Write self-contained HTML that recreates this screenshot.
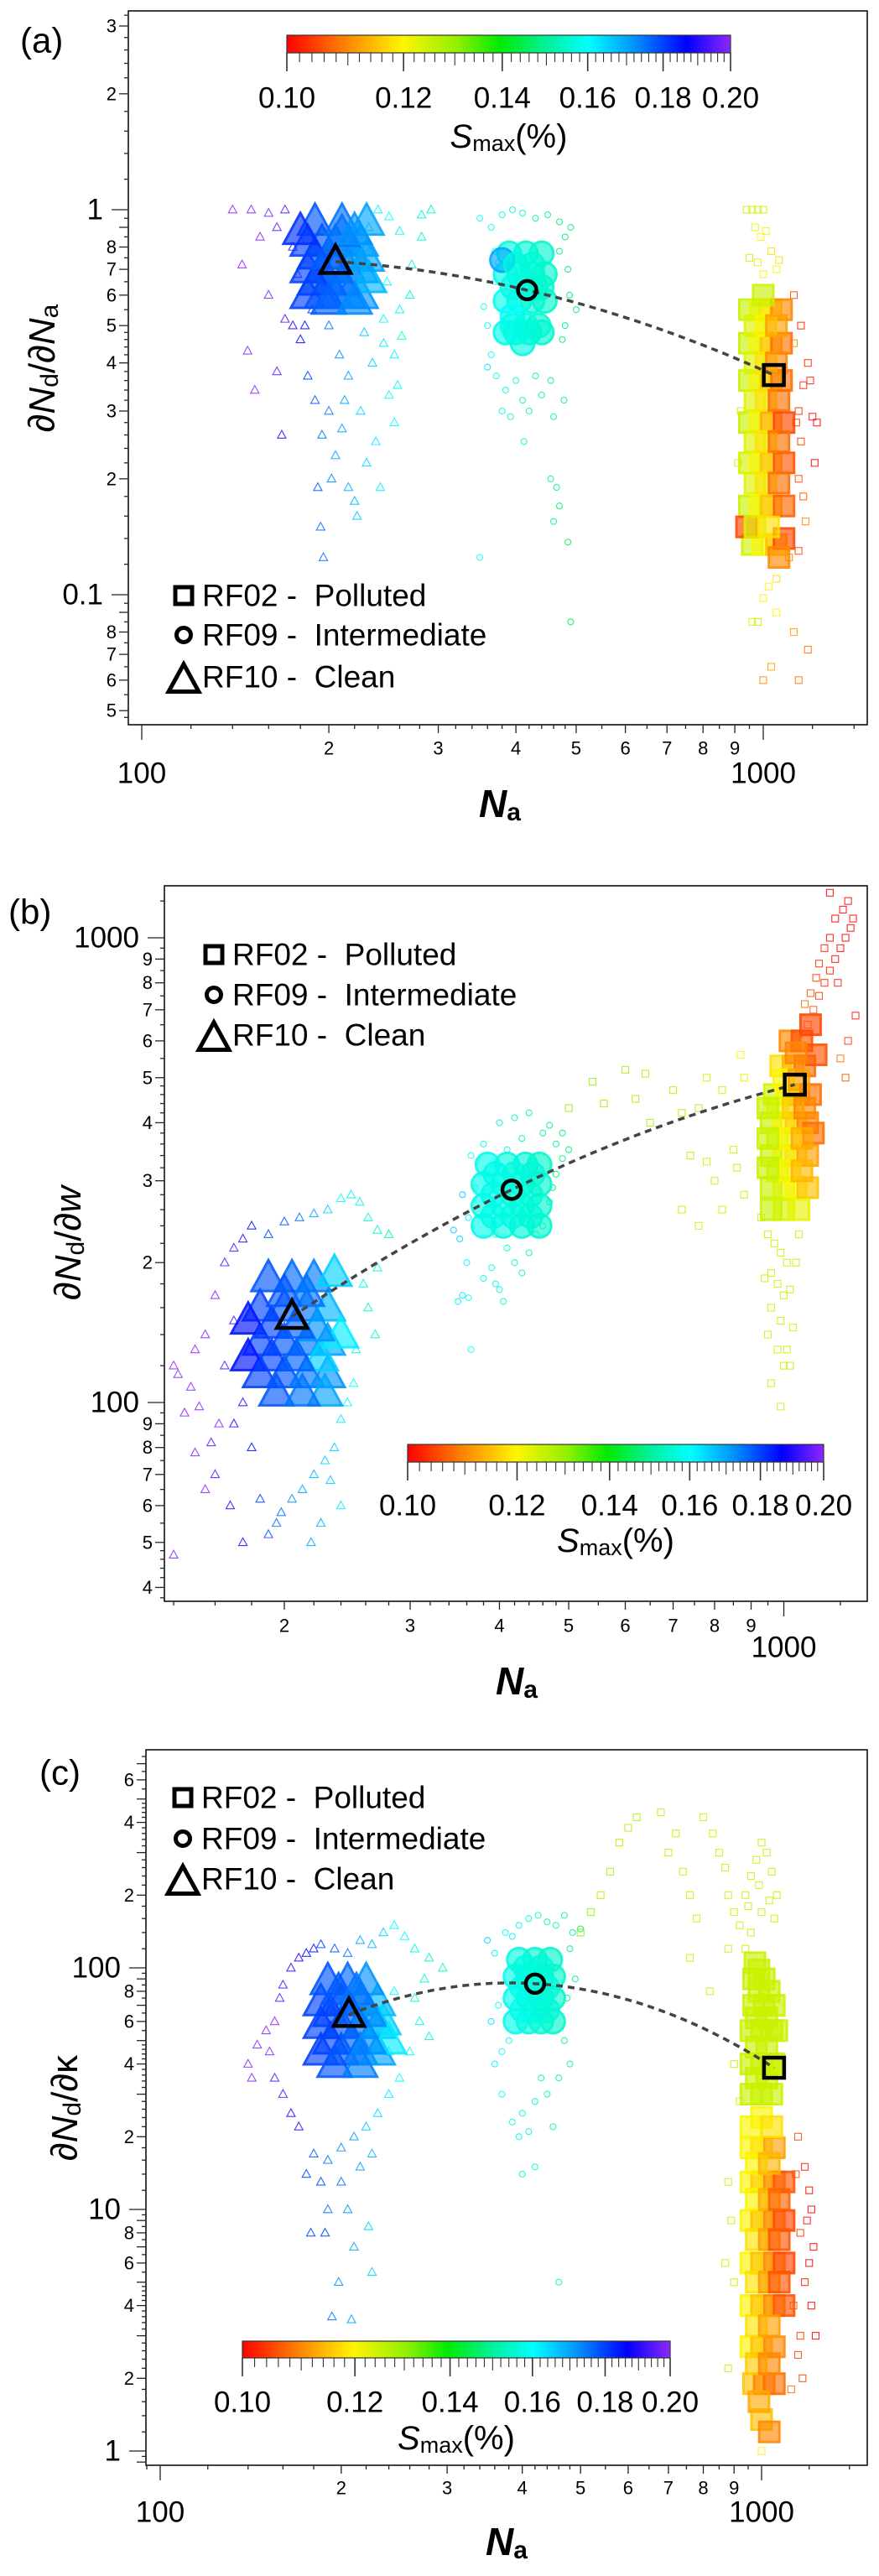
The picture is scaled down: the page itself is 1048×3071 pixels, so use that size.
<!DOCTYPE html>
<html><head><meta charset="utf-8"><title>Sensitivity vs Na</title>
<style>
html,body{margin:0;padding:0;background:#fff}
svg{display:block}
text{font-family:"Liberation Sans",sans-serif;fill:#000}
</style></head>
<body>
<svg id="chart" xmlns="http://www.w3.org/2000/svg" width="1048" height="3071" viewBox="0 0 1048 3071">
<defs>
<linearGradient id="cbgrad" x1="0" x2="1" y1="0" y2="0">
<stop offset="0" stop-color="rgb(255,0,0)"/><stop offset="0.12" stop-color="rgb(255,120,0)"/>
<stop offset="0.26" stop-color="rgb(255,245,0)"/><stop offset="0.38" stop-color="rgb(150,240,0)"/>
<stop offset="0.48" stop-color="rgb(0,235,0)"/><stop offset="0.58" stop-color="rgb(0,240,150)"/>
<stop offset="0.68" stop-color="rgb(0,255,255)"/><stop offset="0.78" stop-color="rgb(0,150,255)"/>
<stop offset="0.9" stop-color="rgb(0,0,255)"/><stop offset="1" stop-color="rgb(140,40,255)"/>
</linearGradient>
</defs>
</svg>
<script>
// ---------------- DATA: [Na, y, Smax] ----------------
const aTri=[[140,1.0,.2],[150,1.0,.2],[160,0.98,.2],[170,1.0,.195],[145,0.72,.2],[148,0.43,.2],[152,0.34,.2],[168,0.26,.19],[165,0.38,.195],[175,0.5,.19],[160,0.6,.2],[155,0.85,.2],[180,0.46,.185],[185,0.37,.18],[190,0.32,.178],[195,0.26,.175],[200,0.3,.175],[192,0.19,.178],[194,0.15,.176],[196,0.125,.175],[205,0.23,.17],[210,0.27,.17],[215,0.19,.168],[220,0.175,.168],[222,0.16,.166],[225,0.3,.165],[230,0.22,.164],[238,0.25,.162],[242,0.19,.162],[250,0.33,.16],[255,0.28,.16],[258,0.35,.158],[245,0.45,.162],[235,0.4,.165],[228,0.48,.166],[262,0.47,.157],[270,0.6,.156],[272,0.72,.155],[282,0.97,.155],[282,0.85,.155],[292,1.0,.154],[260,0.88,.158],[250,0.96,.16],[240,1.0,.162],[232,0.9,.165],[215,0.37,.17],[208,0.42,.172],[200,0.5,.175],[188,0.55,.18],[175,0.8,.19],[165,0.9,.195],[178,0.68,.19],[260,0.55,.158],[248,0.65,.16],[212,0.32,.17],[202,0.2,.173],[170,0.52,.195],[183,0.5,.185],[245,0.52,.16],[255,0.42,.158]];
const aTriCore=[[185,0.6,.18],[195,0.6,.178],[205,0.6,.176],[215,0.6,.174],[225,0.6,.172],[185,0.7,.18],[195,0.7,.178],[205,0.7,.176],[215,0.7,.174],[225,0.7,.172],[185,0.82,.18],[195,0.82,.178],[205,0.82,.176],[215,0.82,.174],[225,0.82,.172],[190,0.93,.178],[210,0.93,.175],[230,0.93,.17],[200,0.65,.176],[220,0.76,.172],[190,0.76,.18],[232,0.66,.168],[190,0.65,.18],[210,0.65,.176],[230,0.75,.17],[200,0.76,.177],[210,0.87,.175],[180,0.88,.182],[220,0.88,.172],[200,0.58,.177],[220,0.58,.173]];
const aCir=[[350,0.95,.16],[365,0.9,.158],[380,0.97,.157],[395,1.0,.156],[410,0.98,.155],[430,0.95,.152],[450,0.97,.15],[470,0.93,.148],[480,0.85,.147],[485,0.7,.148],[488,0.6,.147],[500,0.55,.145],[360,0.5,.16],[355,0.56,.16],[370,0.65,.158],[365,0.42,.16],[372,0.37,.158],[360,0.39,.163],[385,0.34,.156],[380,0.3,.157],[392,0.29,.155],[400,0.36,.155],[410,0.32,.154],[420,0.3,.153],[430,0.37,.152],[440,0.33,.151],[455,0.36,.15],[460,0.29,.15],[478,0.32,.148],[412,0.25,.154],[455,0.2,.15],[465,0.19,.148],[470,0.17,.147],[460,0.155,.148],[485,0.137,.145],[350,0.125,.16],[490,0.085,.145],[475,0.46,.148],[480,0.5,.148],[370,0.78,.16],[375,0.73,.158],[470,0.78,.149],[490,0.9,.147]];
const aCirCore=[[385,0.48,.158],[400,0.48,.157],[420,0.48,.156],[440,0.48,.155],[385,0.58,.158],[405,0.58,.157],[425,0.58,.156],[445,0.58,.155],[385,0.68,.158],[405,0.68,.157],[425,0.68,.156],[445,0.68,.155],[390,0.77,.157],[415,0.77,.156],[440,0.77,.155],[395,0.53,.16],[430,0.63,.156],[380,0.74,.17],[410,0.45,.157],[395,0.5,.158],[415,0.5,.157],[435,0.5,.156],[395,0.63,.158],[415,0.63,.157],[440,0.63,.155],[400,0.72,.157],[425,0.72,.156]];
const aSq=[[940,1.0,.125],[960,1.0,.125],[980,1.0,.125],[1000,1.0,.125],[970,0.9,.122],[990,0.85,.12],[1010,0.88,.12],[950,0.75,.125],[980,0.73,.122],[1030,0.78,.118],[1050,0.7,.12],[1060,0.74,.118],[1000,0.68,.12],[1120,0.6,.105],[1150,0.5,.102],[1180,0.4,.103],[1190,0.36,.102],[1160,0.35,.103],[1140,0.3,.103],[1220,0.28,.1],[1200,0.29,.101],[1210,0.22,.1],[1150,0.25,.104],[1140,0.2,.105],[1160,0.18,.106],[1170,0.155,.11],[1140,0.13,.105],[1100,0.125,.11],[1050,0.11,.118],[1020,0.105,.12],[1000,0.098,.12],[960,0.085,.122],[980,0.085,.125],[1050,0.09,.12],[1120,0.08,.112],[1180,0.072,.108],[1030,0.065,.112],[1000,0.06,.11],[1140,0.06,.108],[1130,0.28,.104],[1120,0.45,.11],[920,0.3,.125],[910,0.22,.125],[930,0.15,.12]];
const aSqCore=[[950,0.55,.125],[990,0.55,.122],[1030,0.55,.118],[1070,0.55,.11],[950,0.45,.125],[990,0.45,.12],[1030,0.45,.115],[1070,0.45,.108],[950,0.36,.125],[990,0.36,.12],[1030,0.36,.115],[1070,0.36,.108],[950,0.28,.125],[990,0.28,.12],[1030,0.28,.113],[1080,0.28,.105],[950,0.22,.124],[990,0.22,.12],[1030,0.22,.115],[1080,0.22,.106],[950,0.17,.125],[990,0.17,.12],[1030,0.17,.115],[1080,0.17,.107],[960,0.135,.124],[1000,0.135,.12],[1050,0.135,.115],[1080,0.14,.105],[940,0.15,.105],[1000,0.6,.125],[970,0.5,.123],[1010,0.5,.12],[1050,0.5,.112],[970,0.4,.123],[1010,0.4,.118],[1050,0.4,.11],[970,0.32,.123],[1010,0.32,.118],[1060,0.32,.108],[970,0.25,.123],[1010,0.25,.118],[1060,0.25,.108],[970,0.195,.123],[1010,0.195,.118],[1060,0.195,.108],[970,0.15,.123],[1020,0.15,.118],[1060,0.125,.11]];
const aMeanNa=[205,417,1040];
const aMeanY=[0.733,0.618,0.372];

const bTri=[[140,120,.2],[142,115,.2],[148,108,.2],[152,98,.2],[145,95,.2],[150,130,.2],[155,140,.2],[160,170,.2],[165,200,.195],[170,215,.195],[175,225,.19],[180,240,.185],[190,230,.18],[200,245,.178],[210,250,.175],[220,255,.17],[230,260,.165],[240,275,.16],[248,280,.158],[255,270,.158],[262,250,.156],[270,235,.155],[280,230,.152],[270,195,.155],[258,180,.157],[262,160,.156],[268,140,.155],[252,130,.158],[250,110,.16],[245,100,.16],[240,92,.162],[235,80,.165],[228,75,.165],[220,70,.168],[212,65,.17],[205,62,.172],[198,58,.175],[195,55,.175],[190,52,.178],[185,62,.18],[175,50,.19],[168,60,.19],[160,70,.195],[158,82,.195],[162,90,.2],[140,47,.2],[218,50,.17],[225,55,.168],[240,60,.162],[232,68,.165],[180,80,.185],[170,90,.19],[155,65,.2],[150,78,.2],[170,150,.195],[165,120,.195],[175,100,.19]];
const bTriCore=[[185,115,.18],[200,115,.178],[215,115,.175],[230,115,.172],[185,135,.18],[200,135,.178],[215,135,.175],[230,135,.17],[185,160,.18],[200,160,.178],[215,160,.175],[230,160,.168],[190,185,.178],[205,185,.176],[220,185,.174],[235,190,.165],[178,125,.185],[178,150,.185],[225,125,.165],[240,140,.162],[192,125,.18],[208,125,.177],[222,145,.172],[192,147,.18],[208,147,.177],[200,172,.178],[215,172,.175],[228,105,.17],[195,105,.178],[212,105,.175]];
const bCir=[[345,235,.165],[352,225,.165],[360,200,.16],[355,170,.162],[350,165,.162],[362,168,.16],[365,130,.16],[380,185,.158],[390,195,.157],[395,180,.157],[400,175,.156],[405,165,.156],[420,200,.155],[430,190,.155],[440,210,.153],[450,230,.152],[460,240,.15],[470,270,.15],[480,310,.148],[490,335,.148],[480,360,.15],[470,395,.148],[460,380,.15],[440,420,.152],[420,410,.154],[400,400,.155],[380,360,.157],[365,340,.16],[370,290,.16],[355,280,.165],[362,250,.162],[500,350,.147],[490,380,.147],[475,290,.148],[430,370,.153],[410,350,.156],[445,330,.152],[395,230,.157],[410,215,.156]];
const bCirCore=[[380,240,.158],[405,240,.157],[430,240,.156],[455,240,.155],[380,265,.158],[405,265,.157],[430,265,.156],[455,265,.155],[380,295,.158],[405,295,.157],[430,295,.156],[455,295,.155],[385,325,.158],[410,325,.157],[435,325,.156],[455,325,.155],[392,252,.158],[418,252,.157],[442,252,.156],[392,280,.158],[418,280,.157],[442,280,.156],[395,310,.158],[420,310,.157],[445,310,.156]];
const bSq=[[500,430,.13],[540,490,.13],[560,440,.13],[600,520,.128],[620,450,.128],[650,400,.128],[640,510,.128],[700,470,.127],[720,420,.127],[760,430,.127],[780,500,.125],[820,470,.125],[780,330,.125],[800,300,.125],[740,340,.127],[760,240,.125],[720,260,.126],[850,350,.125],[860,320,.125],[880,280,.125],[820,260,.125],[870,560,.12],[880,500,.122],[930,250,.125],[950,230,.125],[970,220,.125],[990,210,.125],[1010,200,.125],[960,190,.125],[980,180,.125],[1000,170,.125],[1020,175,.125],[960,160,.125],[990,150,.125],[1030,145,.125],[980,130,.125],[1010,130,.125],[950,140,.125],[1020,120,.125],[960,110,.125],[1000,120,.125],[990,98,.125],[940,185,.125],[1040,200,.125],[1050,230,.125],[1050,620,.11],[1080,650,.108],[1100,700,.106],[1120,750,.104],[1140,800,.103],[1160,850,.102],[1180,900,.101],[1200,950,.1],[1220,1000,.1],[1240,1050,.1],[1210,1150,.1],[1230,1200,.1],[1180,1100,.1],[1160,1000,.101],[1140,950,.102],[1120,880,.103],[1110,820,.104],[1090,760,.106],[1070,720,.108],[1190,800,.102],[1250,1100,.1],[1260,680,.102],[1230,600,.104],[1200,550,.108],[1220,500,.106],[1160,1250,.1]];
const bSqCore=[[960,290,.125],[1000,290,.123],[1040,290,.12],[1080,290,.115],[960,340,.125],[1000,340,.122],[1040,340,.118],[1080,340,.112],[960,400,.125],[1000,400,.12],[1040,400,.116],[1080,400,.11],[970,460,.124],[1010,460,.12],[1050,460,.114],[1090,460,.108],[990,530,.118],[1030,530,.114],[1070,530,.108],[1020,600,.11],[1060,600,.106],[1090,650,.105],[1110,560,.106],[1100,380,.108],[980,315,.124],[1020,315,.12],[1060,315,.114],[980,370,.124],[1020,370,.12],[1060,370,.113],[980,430,.122],[1030,430,.116],[1070,430,.11],[1000,495,.12],[1050,495,.112],[1040,565,.11],[950,320,.125],[950,370,.125],[950,430,.125],[960,260,.125],[1000,260,.124],[1050,260,.122]];
const bMeanNa=[205,416,1036];
const bMeanY=[153,287,483];

const cTri=[[140,40,.2],[142,35,.2],[145,48,.2],[150,55,.2],[152,45,.2],[155,60,.2],[158,75,.195],[160,85,.195],[165,100,.19],[170,110,.19],[175,115,.185],[180,120,.185],[185,125,.18],[195,120,.178],[205,115,.175],[215,130,.17],[225,125,.168],[235,140,.165],[245,150,.16],[255,135,.16],[265,120,.157],[280,110,.155],[295,100,.154],[275,90,.156],[265,75,.157],[270,60,.157],[280,52,.156],[260,45,.158],[250,35,.16],[240,30,.162],[230,25,.164],[220,22,.166],[210,20,.17],[200,18,.172],[190,16,.175],[180,17,.178],[175,14,.18],[185,13,.18],[200,13,.175],[215,15,.17],[225,17,.168],[190,10,.175],[205,10,.172],[178,8,.18],[188,8,.18],[210,7,.17],[222,8.5,.165],[198,5,.172],[225,5.5,.165],[193,3.6,.175],[208,3.5,.17],[160,30,.195],[165,25,.19],[155,35,.195],[170,22,.19],[245,80,.16],[240,45,.162]];
const cTriCore=[[185,45,.18],[200,45,.178],[215,45,.175],[230,45,.17],[185,58,.18],[200,58,.178],[215,58,.175],[230,58,.17],[185,72,.18],[200,72,.178],[215,72,.175],[230,72,.168],[190,88,.178],[205,88,.176],[220,88,.172],[235,60,.165],[240,50,.162],[192,50,.18],[208,50,.177],[222,50,.173],[192,65,.18],[208,65,.177],[222,65,.173],[198,80,.178],[212,80,.175],[195,40,.178],[215,40,.174]];
const cCir=[[350,130,.165],[360,115,.162],[375,140,.16],[385,135,.158],[395,150,.157],[410,160,.156],[425,165,.155],[440,155,.153],[455,150,.152],[470,165,.15],[485,140,.15],[500,145,.147],[480,120,.15],[490,90,.148],[475,75,.15],[470,50,.15],[480,40,.15],[460,35,.152],[440,30,.153],[420,28,.155],[400,25,.156],[385,23,.158],[370,30,.16],[360,40,.162],[355,60,.162],[365,70,.16],[370,45,.16],[395,20,.157],[410,21,.156],[420,15,.155],[400,14,.156],[450,22,.152],[460,5,.152],[430,35,.154],[380,50,.158]];
const cCirCore=[[390,60,.158],[410,60,.157],[430,60,.156],[450,60,.155],[390,75,.158],[410,75,.157],[430,75,.156],[450,75,.155],[390,92,.158],[410,92,.157],[430,92,.156],[450,92,.155],[395,108,.157],[420,108,.156],[445,108,.155],[400,67,.158],[420,67,.157],[440,67,.156],[400,83,.158],[420,83,.157],[440,83,.156],[405,100,.157],[430,100,.156]];
const cSq=[[500,140,.13],[520,170,.13],[540,200,.128],[560,250,.128],[580,330,.127],[600,380,.127],[620,420,.127],[680,440,.126],[720,360,.126],[700,300,.126],[740,250,.125],[760,200,.125],[780,160,.125],[800,420,.125],[830,360,.125],[850,300,.125],[870,260,.125],[880,200,.125],[900,170,.125],[920,150,.125],[940,200,.125],[960,240,.125],[980,280,.125],[1000,330,.125],[1020,300,.125],[1040,250,.125],[1060,200,.125],[1050,160,.125],[1000,170,.125],[960,140,.125],[940,120,.125],[760,110,.125],[820,80,.125],[880,120,.125],[950,180,.125],[990,220,.125],[1030,190,.125],[900,40,.125],[920,28,.125],[880,13,.125],[890,9,.125],[870,6,.125],[900,5,.125],[880,2.2,.125],[1000,1,.12],[1150,20,.105],[1180,15,.102],[1200,12,.1],[1210,10,.1],[1190,9,.101],[1220,7,.1],[1200,6,.1],[1180,5,.102],[1210,4,.1],[1160,3,.104],[1230,3,.1],[1150,2.5,.105],[1170,2,.104],[1120,1.8,.108],[1140,14,.106],[1160,8,.104],[1130,4,.106]];
const cSqCore=[[960,30,.125],[1000,30,.125],[1040,30,.125],[960,40,.125],[1000,40,.125],[1040,40,.125],[960,55,.125],[1000,55,.125],[1040,55,.125],[970,70,.125],[1010,70,.125],[1050,70,.125],[970,90,.125],[1010,90,.125],[975,105,.125],[1050,40,.125],[1060,55,.125],[960,18,.12],[1000,18,.118],[1050,18,.112],[960,13,.12],[1000,13,.116],[1050,13,.11],[1090,13,.106],[960,9,.12],[1000,9,.115],[1050,9,.11],[1090,9,.105],[960,6,.12],[1000,6,.115],[1050,6,.11],[1090,6,.105],[960,4,.12],[1000,4,.115],[1050,4,.11],[1090,4,.106],[960,2.7,.12],[1000,2.7,.115],[1050,2.7,.11],[970,1.9,.115],[1010,1.9,.11],[1050,1.9,.108],[1000,1.35,.115],[1030,1.2,.11],[980,35,.125],[1020,35,.125],[980,47,.125],[1020,47,.125],[980,62,.125],[1020,62,.125],[990,80,.125],[1030,80,.125],[990,98,.125],[980,15.5,.12],[1030,15.5,.114],[980,11,.12],[1030,11,.113],[1070,11,.107],[980,7.5,.118],[1030,7.5,.112],[1070,7.5,.106],[980,5,.118],[1030,5,.112],[1070,5,.106],[980,3.3,.118],[1030,3.3,.112],[980,2.3,.116],[1030,2.3,.11],[990,1.6,.113],[960,22,.12],[1000,24,.12],[1040,22,.118]];
const cMeanNa=[206,420,1049];
const cMeanY=[64,86,38.6];

// tick label arrays
const aYMajor=[0.1,1], aYMajorText=['0.1','1'];
const aYMinorLabeled=[0.05,0.06,0.07,0.08,0.2,0.3,0.4,0.5,0.6,0.7,0.8,2,3];
const bYMajor=[100,1000], bYMajorText=['100','1000'];
const bYMinorLabeled=[40,50,60,70,80,90,200,300,400,500,600,700,800,900];
const cYMajor=[1,10,100], cYMajorText=['1','10','100'];
const cYMinorLabeled=[2,4,6,8,20,40,60,80,200,400,600];
const xMinorLabeled=[200,300,400,500,600,700,800,900];
const aXMajor=[100,1000], bXMajor=[1000], cXMajor=[100,1000];
const cbTicks=[0.10,0.12,0.14,0.16,0.18,0.20];
const cbTickText=['0.10','0.12','0.14','0.16','0.18','0.20'];

// ---------------- RENDER ----------------
const NS='http://www.w3.org/2000/svg';
const svg=document.getElementById('chart');
function mk(tag,attrs,parent){const e=document.createElementNS(NS,tag);for(const k in attrs)e.setAttribute(k,attrs[k]);(parent||svg).appendChild(e);return e;}
const cStops=[[0,[255,0,0]],[0.12,[255,120,0]],[0.26,[255,245,0]],[0.38,[150,240,0]],[0.48,[0,235,0]],[0.58,[0,240,150]],[0.68,[0,255,255]],[0.78,[0,150,255]],[0.9,[0,0,255]],[1,[140,40,255]]];
function sT(s){return Math.max(0,Math.min(1,Math.log(s/0.1)/Math.log(2)));}
function color(s){const t=sT(s);for(let i=1;i<cStops.length;i++){if(t<=cStops[i][0]){const a=cStops[i-1],b=cStops[i];const f=(t-a[0])/(b[0]-a[0]);const c=a[1].map((v,k)=>Math.round(v+(b[1][k]-v)*f));return 'rgb('+c.join(',')+')';}}return 'rgb(140,40,255)';}
function shape(g,kind,cx,cy,sz,stroke,sw,fill,fop,op){
  let e;
  if(kind==='tri'){e=mk('polygon',{points:[cx,cy-sz*0.6,cx-sz*0.56,cy+sz*0.42,cx+sz*0.56,cy+sz*0.42].join(' ')},g);}
  else if(kind==='cir'){e=mk('circle',{cx:cx,cy:cy,r:sz/2},g);}
  else{e=mk('rect',{x:cx-sz/2,y:cy-sz/2,width:sz,height:sz},g);}
  e.setAttribute('stroke',stroke);e.setAttribute('stroke-width',sw);
  e.setAttribute('fill',fill);e.setAttribute('fill-opacity',fop);
  if(op!==undefined)e.setAttribute('opacity',op);
  return e;
}
function txt(str,x,y,size,anchor,parent,extra){const t=mk('text',{x:x,y:y,'font-size':size,'text-anchor':anchor||'middle','dominant-baseline':'central'},parent);t.textContent=str;if(extra)for(const k in extra)t.setAttribute(k,extra[k]);return t;}

function drawPanel(P){
  const root=mk('g',{});
  
  
  const X=v=>P.x0+P.xDec*Math.log10(v/P.xRef);
  const Y=v=>P.y0-P.yDec*Math.log10(v/P.yRef);
  const [L,T,R,B]=P.box;
  const frame=mk('rect',{x:L,y:T,width:R-L,height:B-T,fill:'none',stroke:'#000','stroke-width':1.5},root);
  
  
  const xg=mk('g',{stroke:'#222','stroke-width':1.3},root);
  
  
  const xl=mk('g',{},root);
  
  
  for(let dec=10;dec<=1000;dec*=10){
    for(let d=1;d<10;d+=(d<5?0.2:0.5)){
      const v=+(d*dec).toFixed(4);const px=X(v);if(px<L+1||px>R-1)continue;
      const isMaj=Math.abs(d-1)<1e-9, isMin=Math.abs(d-Math.round(d))<1e-9;
      const len=isMaj?18:(isMin?10:5);
      mk('line',{x1:px,x2:px,y1:B,y2:B+len},xg);
      if(!isMaj&&isMin&&xMinorLabeled.some(u=>Math.abs(u-v/dec*100)<1e-6))txt(String(Math.round(d)),px,P.xDigitY,22,'middle',xl);
    }
  }
  P.xMajor.forEach(v=>{const px=X(v);if(px>=L&&px<=R)txt(String(v),px,P.xMajorY,35,'middle',xl);});
  const yg=mk('g',{stroke:'#222','stroke-width':1.3},root);
  
  
  const yl=mk('g',{},root);
  
  
  for(let dec=0.01;dec<=1000;dec*=10){
    for(let d=1;d<10;d+=(d<5?0.2:0.5)){
      const v=+(d*dec).toPrecision(6);const py=Y(v);if(py<T+1||py>B-1)continue;
      const isMaj=Math.abs(d-1)<1e-9, isMin=Math.abs(d-Math.round(d))<1e-9;
      const len=isMaj?20:(isMin?11:5);
      mk('line',{x1:L-len,x2:L,y1:py,y2:py},yg);
      if(!isMaj&&isMin&&P.yMinorLabeled.some(u=>Math.abs(u-v)/v<1e-6))txt(String(Math.round(d)),L-14,py,22,'end',yl);
    }
  }
  P.yMajor.forEach((v,i)=>{const py=Y(v);txt(P.yMajorText[i],L-30,py,35,'end',yl);});
  const cid='clip'+P.id;
  const cp=mk('clipPath',{id:cid},root);mk('rect',{x:L,y:T,width:R-L,height:B-T},cp);
  const pg=mk('g',{'clip-path':'url(#'+cid+')'},root);
  
  
  const sets=[['tri',P.tri,P.triCore,'rf10'],['cir',P.cir,P.cirCore,'rf09'],['sq',P.sq,P.sqCore,'rf02']];
  sets.forEach(([k,sp,core,nm])=>{
    const g1=mk('g',{},pg);
    
    
    sp.forEach(p=>{const c=color(p[2]);shape(g1,k,X(p[0]),Y(p[1]),k==='cir'?7:(k==='tri'?9:8),c,1.1,'none',0,0.85);});
    core.forEach(p=>{const c=color(p[2]);shape(g1,k,X(p[0]),Y(p[1]),k==='cir'?28:(k==='tri'?36:24),c,3,c,0.7,0.9);});
  });
  const lx=P.meanNa.map(v=>Math.log10(v)),ly=P.meanY.map(v=>Math.log10(v));
  const q=x=>{let s=0;for(let i=0;i<3;i++){let t=ly[i];for(let j=0;j<3;j++)if(j!==i)t*=(x-lx[j])/(lx[i]-lx[j]);s+=t;}return s;};
  let d='';for(let i=0;i<=60;i++){const x=lx[0]+(lx[2]-lx[0])*i/60;const px=X(Math.pow(10,x)),py=Y(Math.pow(10,q(x)));d+=(i?'L':'M')+px.toFixed(1)+' '+py.toFixed(1);}
  const fit=mk('path',{d:d,fill:'none',stroke:'#444','stroke-width':3.5,'stroke-dasharray':'8 6'},root);
  
  
  const mg=mk('g',{},root);
  
  
  const mk3=['tri','cir','sq'];
  P.meanNa.forEach((v,i)=>{shape(mg,mk3[i],X(v),Y(P.meanY[i]),mk3[i]==='tri'?32:(mk3[i]==='cir'?22:24),'#000',4.5,'none',0);});
  const lg=mk('g',{},root);
  
  
  const lab=['RF02 -  Polluted','RF09 -  Intermediate','RF10 -  Clean'];const kinds=['sq','cir','tri'];
  lab.forEach((s,i)=>{const y=P.legY[i];
    const e=mk('g',{},lg);
    
    
    shape(e,kinds[i],P.legX-22,y+(kinds[i]==='tri'?4:0),kinds[i]==='tri'?32:(kinds[i]==='cir'?17:20),'#000',5,'none',0);
    txt(s,P.legX,y,37,'start',e,{'xml:space':'preserve',style:'white-space:pre'});
  });
  const cb=mk('g',{},root);
  
  
  const [cx0,cx1,cy0,cy1]=P.cb;
  mk('rect',{x:cx0,y:cy0,width:cx1-cx0,height:cy1-cy0,fill:'url(#cbgrad)',stroke:'#333','stroke-width':1.2},cb);
  const CX=s=>cx0+(cx1-cx0)*sT(s);
  for(let k=0;k<=50;k++){const s=0.1+k*0.002;const major=k%10===0,mid=k%5===0;
    mk('line',{x1:CX(s),x2:CX(s),y1:cy1,y2:cy1+(major?22:(mid?15:11)),stroke:'#333','stroke-width':major?1.6:1.1},cb);}
  cbTicks.forEach((s,i)=>txt(cbTickText[i],CX(s),P.cbLabY,35,'middle',cb));
  const st=mk('text',{x:(cx0+cx1)/2,y:P.cbTitleY,'font-size':40,'text-anchor':'middle','dominant-baseline':'central'},cb);
  
  
  st.innerHTML='<tspan font-style="italic">S</tspan><tspan font-size="27" dy="8">max</tspan><tspan dy="-8">(%)</tspan>';
  const xt=mk('text',{x:P.xTitle[0],y:P.xTitle[1],'font-size':46,'text-anchor':'middle','dominant-baseline':'central','font-weight':'bold','font-style':'italic'},root);
  
  
  xt.innerHTML='N<tspan font-size="30" dy="10" font-style="normal">a</tspan>';
  const yt=mk('text',{x:0,y:0,'font-size':44,'text-anchor':'middle','dominant-baseline':'central',transform:'translate('+P.yTitle[0]+','+P.yTitle[1]+') rotate(-90)'},root);
  
  
  yt.innerHTML='∂<tspan font-style="italic">N</tspan><tspan font-size="30" dy="9">d</tspan><tspan dy="-9">/∂</tspan>'+P.yDen;
  const pl=txt(P.label,P.labelPos[0],P.labelPos[1],42,'start',root);
  
  
}

drawPanel({id:'a',label:'(a)',labelPos:[24,48],box:[153,13,1034,864],x0:169,xRef:100,xDec:741,y0:250,yRef:1,yDec:459,
  xDigitY:892,xMajorY:922,xMajor:aXMajor,yMajor:aYMajor,yMajorText:aYMajorText,yMinorLabeled:aYMinorLabeled,
  tri:aTri,triCore:aTriCore,cir:aCir,cirCore:aCirCore,sq:aSq,sqCore:aSqCore,meanNa:aMeanNa,meanY:aMeanY,
  legX:241,legY:[710,757,807],cb:[342,871,42,63],cbLabY:117,cbTitleY:163,xTitle:[596,958],yTitle:[50,439],
  yDen:'<tspan font-style="italic">N</tspan><tspan font-size="30" dy="9">a</tspan>'});
drawPanel({id:'b',label:'(b)',labelPos:[10,1087],box:[196,1056,1034,1909],x0:339,xRef:200,xDec:852,y0:1118,yRef:1000,yDec:554,
  xDigitY:1938,xMajorY:1964,xMajor:bXMajor,yMajor:bYMajor,yMajorText:bYMajorText,yMinorLabeled:bYMinorLabeled,
  tri:bTri,triCore:bTriCore,cir:bCir,cirCore:bCirCore,sq:bSq,sqCore:bSqCore,meanNa:bMeanNa,meanY:bMeanY,
  legX:277,legY:[1138,1186,1234],cb:[486,982,1722,1743],cbLabY:1795,cbTitleY:1837,xTitle:[616,2004],yTitle:[81,1482],
  yDen:'<tspan font-style="italic">w</tspan>'});
drawPanel({id:'c',label:'(c)',labelPos:[47,2113],box:[174,2086,1034,2939],x0:191,xRef:100,xDec:717,y0:2922,yRef:1,yDec:288,
  xDigitY:2966,xMajorY:2995,xMajor:cXMajor,yMajor:cYMajor,yMajorText:cYMajorText,yMinorLabeled:cYMinorLabeled,
  tri:cTri,triCore:cTriCore,cir:cCir,cirCore:cCirCore,sq:cSq,sqCore:cSqCore,meanNa:cMeanNa,meanY:cMeanY,
  legX:240,legY:[2143,2192,2240],cb:[289,799,2791,2811],cbLabY:2864,cbTitleY:2907,xTitle:[604,3030],yTitle:[77,2513],
  yDen:'<tspan>κ</tspan>'});
</script>
</body></html>
